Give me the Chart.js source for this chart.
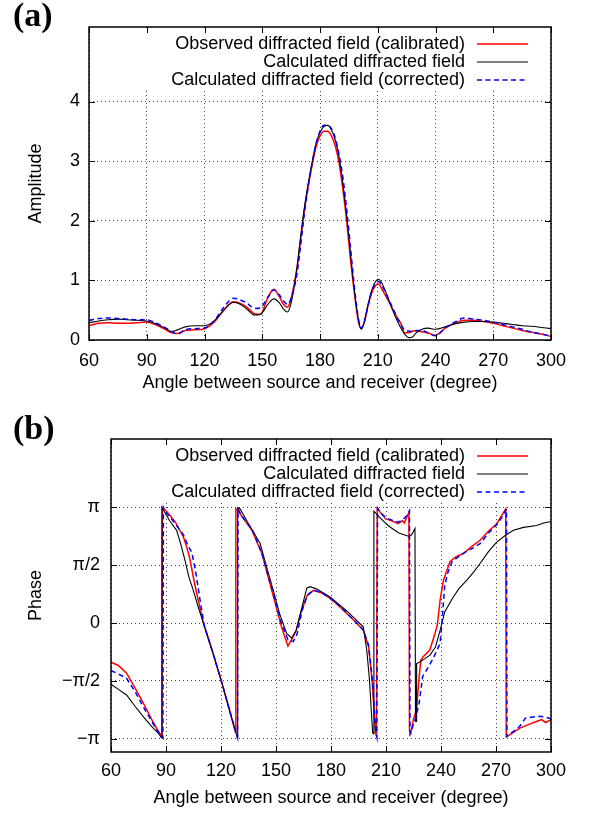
<!DOCTYPE html>
<html>
<head>
<meta charset="utf-8">
<script src="https://cdn.jsdelivr.net/npm/chart.js@4"></script>
<style>
    html, body { margin: 0; padding: 0; background: #fff; }
    #wrap { position: relative; width: 590px; height: 814px; }
    canvas { position: absolute; left: 0; }
</style>
</head>
<body>
<div id="wrap">
    <canvas id="ampChart" width="590" height="405" style="top:0px"></canvas>
    <canvas id="phaseChart" width="590" height="409" style="top:405px"></canvas>
</div>
<script>
/* ===============================
   DATA
=============================== */
const seriesLabels = [
    "Observed diffracted field (calibrated)",
    "Calculated diffracted field",
    "Calculated diffracted field (corrected)"
];

// (a) amplitude, shared angle grid
const ampDeg = [60,65,70,75,80,85,90,95,100,103,106,110,115,120,125,130,135,138,142,146,149,153,156,159,161,163,165,168,170,172,174,176,178,180,182,184,186,188,190,192,194,196,198,200,201.5,203,205,207,209,210.5,212,214,216,218,220,222,224,226,228,230,233,236,240,245,250,255,260,265,270,275,280,285,290,295,300];
const ampObs = [0.24,0.28,0.29,0.28,0.28,0.29,0.30,0.25,0.17,0.12,0.11,0.16,0.17,0.19,0.3,0.5,0.64,0.62,0.55,0.44,0.43,0.72,0.85,0.72,0.6,0.55,0.7,1.2,1.7,2.2,2.6,2.95,3.25,3.42,3.5,3.5,3.42,3.25,2.95,2.5,1.95,1.3,0.75,0.3,0.19,0.3,0.58,0.8,0.92,0.94,0.86,0.75,0.63,0.5,0.38,0.28,0.12,0.12,0.15,0.15,0.14,0.12,0.08,0.2,0.28,0.33,0.33,0.31,0.28,0.24,0.2,0.16,0.13,0.1,0.06];
const ampCalc = [0.29,0.32,0.34,0.35,0.34,0.33,0.32,0.27,0.19,0.14,0.17,0.22,0.24,0.24,0.32,0.5,0.63,0.61,0.52,0.42,0.43,0.6,0.69,0.62,0.52,0.47,0.62,1.2,1.75,2.25,2.65,3.0,3.3,3.48,3.58,3.6,3.52,3.35,3.05,2.6,2.05,1.4,0.8,0.33,0.18,0.3,0.6,0.85,0.99,1.02,0.96,0.82,0.65,0.48,0.33,0.2,0.1,0.04,0.05,0.12,0.18,0.2,0.18,0.22,0.27,0.3,0.31,0.31,0.3,0.28,0.26,0.24,0.23,0.21,0.19];
const ampCorr = [0.33,0.36,0.37,0.36,0.35,0.34,0.34,0.28,0.2,0.14,0.1,0.17,0.19,0.2,0.32,0.55,0.7,0.68,0.62,0.53,0.54,0.72,0.84,0.75,0.66,0.6,0.7,1.1,1.6,2.15,2.6,2.98,3.3,3.5,3.6,3.6,3.54,3.38,3.1,2.7,2.15,1.5,0.85,0.35,0.2,0.3,0.58,0.83,0.96,0.98,0.92,0.8,0.66,0.52,0.38,0.26,0.17,0.15,0.14,0.16,0.16,0.12,0.07,0.2,0.3,0.37,0.35,0.33,0.3,0.26,0.22,0.18,0.13,0.1,0.06];
const ampTicks = [0, 1, 2, 3, 4];

// (b) phase, each series has its own angles (wraps at +-pi)
const obsPhaseDeg = [60,64,68.5,73,77.6,82,86,87.8,88.0,90,92.2,95,99.5,101.3,103,104.9,107,110.4,115,120,124,127.8,128.1,129.5,131.4,136.9,142.3,146,149.6,153,156.5,158.5,161,164,167,170.4,175,179.5,184,188.6,193,197.6,200.5,202.5,204.3,204.8,205.2,207,210,213,216.6,219,220,221.5,222.5,222.8,223.5,225,226.6,228,229,230.3,233.9,236.7,238,239.5,241.3,244.9,248,252.2,256,261.3,266,270.4,275.3,275.6,277,283,288,292,295,297,299.5,300];
const obsPhase = [-1.06,-1.15,-1.36,-1.75,-2.17,-2.6,-2.95,-3.08,3.14,3.05,2.92,2.75,2.34,2.07,1.75,1.25,0.75,0,-0.7,-1.54,-2.25,-2.95,3.1,3.05,2.9,2.52,1.89,1.2,0.54,-0.1,-0.62,-0.45,-0.2,0.35,0.75,0.89,0.82,0.67,0.48,0.26,0.05,-0.19,-0.64,-1.6,-3.0,-3.05,3.12,3.0,2.83,2.78,2.7,2.78,2.72,2.9,3.0,-2.9,-3.0,-2.6,-2.36,-1.5,-1.0,-0.91,-0.73,-0.28,-0.05,0.62,1.16,1.67,1.8,1.89,2.05,2.25,2.5,2.7,3.1,-3.08,-3.05,-2.85,-2.75,-2.67,-2.62,-2.7,-2.64,-2.65];

const calcPhaseDeg = [60,64,68.5,73,77.6,82,86,87.6,87.8,90,92,95.8,98,100.4,102.5,104.9,107.5,110.4,115,120,124,128.8,129.1,130.4,135,141.3,145,148.5,152,155.8,158.5,161,163.5,166.8,168.6,172,179.5,184,188.6,193,197.6,199.5,201,202.7,203.1,203.4,206,209,212.2,217,222.2,224,225.8,226.1,226.4,226.7,228.6,231,234,237,239.5,242,246.7,250,254,258,261.3,266,270.4,275,279.5,285,292.2,296,300];
const calcPhase = [-1.66,-1.8,-1.95,-2.25,-2.54,-2.8,-3.0,-3.12,3.14,2.95,2.78,2.52,2.15,1.7,1.25,0.89,0.45,0,-0.72,-1.54,-2.25,-3.1,3.14,3.1,2.7,2.17,1.5,0.89,0.25,-0.28,-0.41,-0.2,0.3,0.95,0.99,0.93,0.71,0.52,0.33,0.12,-0.1,-0.73,-1.55,-2.98,-3.0,3.04,2.9,2.75,2.61,2.45,2.36,2.4,2.57,-2.67,-2.67,-1.1,-1.05,-0.97,-0.87,-0.65,-0.2,0.3,0.71,0.95,1.16,1.4,1.62,1.95,2.2,2.38,2.52,2.6,2.65,2.72,2.76];

const corrPhaseDeg = [60,64,68.5,73,77.6,82,86,88.3,88.6,90,92.2,95,99.5,102,104,106,108.6,111,115,120,124,129,129.3,131.4,136.9,142.3,146,149.6,153,156.5,159.4,161.5,164,167,170.4,175,179.5,184,188.6,193,197.6,200.5,202.5,204.5,205.0,205.4,207,210,213,216.6,219,221.5,222.8,223.1,224,226,228,230,233,235.7,239.5,240.5,242,243.5,246,250,254,258,261.3,266,270,273,275.7,276.0,278,283,286,290,293.7,297,300];
const corrPhase = [-1.29,-1.38,-1.5,-1.85,-2.27,-2.65,-2.98,-3.12,3.14,3.0,2.88,2.7,2.4,2.1,1.93,1.45,0.62,-0.1,-0.72,-1.54,-2.25,-3.1,3.1,2.9,2.55,1.9,1.25,0.6,0.0,-0.45,-0.5,-0.3,0.3,0.75,0.89,0.83,0.68,0.5,0.27,0.06,-0.18,-0.6,-1.5,-3.0,-3.1,3.12,3.0,2.86,2.8,2.74,2.8,2.92,3.05,-3.0,-2.9,-2.6,-2.2,-1.45,-1.2,-0.96,-0.55,0.0,1.0,1.34,1.67,1.82,1.95,2.05,2.16,2.45,2.65,2.85,3.1,-3.08,-3.0,-2.8,-2.58,-2.55,-2.53,-2.55,-2.6];

const phaseTickValues = [-Math.PI, -Math.PI / 2, 0, Math.PI / 2, Math.PI];
const phaseTickLabels = ["\u2212\u03c0", "\u2212\u03c0/2", "0", "\u03c0/2", "\u03c0"];

/* ===============================
   STYLE
=============================== */
const FAMILY = '"Liberation Sans", Arial, sans-serif';
const lineStyles = [
    { borderColor: "#ff0000", borderWidth: 1.5, borderDash: [], order: 3 },
    { borderColor: "#000000", borderWidth: 1.1, borderDash: [], order: 2 },
    { borderColor: "#0000ff", borderWidth: 1.5, borderDash: [5, 3.5], order: 1 }
];

function toPoints(xs, ys) {
    const n = Math.min(xs.length, ys.length);
    const pts = [];
    for (let i = 0; i < n; i++) pts.push({ x: xs[i], y: ys[i] });
    return pts;
}

/* ===============================
   GNUPLOT-LIKE FRAME PLUGIN
=============================== */
const gnuFrame = {
    id: "gnuFrame",
    beforeDatasetsDraw(chart, args, opts) {
        // opaque key box hides the grid behind the legend
        const a = chart.chartArea;
        const ctx = chart.ctx;
        ctx.save();
        ctx.fillStyle = "#fff";
        ctx.fillRect(a.left + 1, a.top + 1, a.right - a.left - 2, opts.keyHeight);
        ctx.restore();
    },
    afterDraw(chart, args, opts) {
        const a = chart.chartArea;
        const ctx = chart.ctx;
        ctx.save();

        /* key */
        ctx.font = "18px " + FAMILY;
        ctx.fillStyle = "#000";
        ctx.textAlign = "right";
        ctx.textBaseline = "middle";
        chart.data.datasets.forEach((ds, i) => {
            const y = a.top + 17 + i * 18;
            ctx.fillText(ds.label, a.right - 86, y);
            ctx.beginPath();
            ctx.strokeStyle = ds.borderColor;
            ctx.lineWidth = ds.borderWidth;
            ctx.setLineDash(ds.borderDash);
            ctx.moveTo(a.right - 74, y);
            ctx.lineTo(a.right - 23, y);
            ctx.stroke();
        });
        ctx.setLineDash([]);

        /* inward ticks on all four sides */
        ctx.strokeStyle = "#000";
        ctx.lineWidth = 1;
        const xs = chart.scales.x;
        const ys = chart.scales.y;
        ctx.beginPath();
        xs.ticks.forEach(t => {
            const x = Math.round(xs.getPixelForValue(t.value)) + 0.5;
            ctx.moveTo(x, a.bottom);
            ctx.lineTo(x, a.bottom - 6);
            ctx.moveTo(x, a.top);
            ctx.lineTo(x, a.top + 6);
        });
        ys.ticks.forEach(t => {
            const y = Math.round(ys.getPixelForValue(t.value)) + 0.5;
            ctx.moveTo(a.left, y);
            ctx.lineTo(a.left + 6, y);
            ctx.moveTo(a.right, y);
            ctx.lineTo(a.right - 6, y);
        });
        ctx.stroke();

        /* border */
        ctx.lineWidth = 1.5;
        ctx.strokeRect(a.left, a.top, a.right - a.left, a.bottom - a.top);

        /* panel letter */
        ctx.font = 'bold 34px "Liberation Serif", "Times New Roman", serif';
        ctx.textAlign = "left";
        ctx.textBaseline = "middle";
        ctx.fillText(opts.letter, 13, opts.letterY);

        ctx.restore();
    }
};

/* ===============================
   CHART BUILDER
=============================== */
function makeChart(id, cfg) {

    const datasets = cfg.series.map((pts, i) => ({
        label: seriesLabels[i],
        data: pts,
        borderColor: lineStyles[i].borderColor,
        borderWidth: lineStyles[i].borderWidth,
        borderDash: lineStyles[i].borderDash,
        order: lineStyles[i].order,
        pointRadius: 0,
        fill: false,
        tension: 0,
        cubicInterpolationMode: cfg.smooth ? "monotone" : "default"
    }));

    return new Chart(document.getElementById(id), {
        type: "line",
        data: { datasets: datasets },
        options: {
            responsive: false,
            animation: false,
            events: [],
            layout: { padding: { left: 0, right: 39, top: cfg.padTop, bottom: 0 } },
            plugins: {
                legend: { display: false },
                tooltip: { enabled: false },
                gnuFrame: { keyHeight: 61, letter: cfg.letter, letterY: cfg.letterY }
            },
            scales: {
                x: {
                    type: "linear",
                    min: 60,
                    max: 300,
                    afterFit: s => { s.height = cfg.xHeight; },
                    ticks: {
                        stepSize: 30,
                        autoSkip: false,
                        maxRotation: 0,
                        padding: cfg.xTickPad,
                        color: "#000",
                        font: { family: FAMILY, size: 18 }
                    },
                    grid: { color: "#444", lineWidth: 1, drawTicks: false },
                    border: { display: false, dash: [1, 3] },
                    title: {
                        display: true,
                        text: "Angle between source and receiver (degree)",
                        color: "#000",
                        font: { family: FAMILY, size: 18 },
                        padding: { top: 0, bottom: cfg.xTitlePad }
                    }
                },
                y: {
                    type: "linear",
                    min: cfg.yMin,
                    max: cfg.yMax,
                    afterFit: s => { s.width = cfg.yWidth; },
                    afterBuildTicks: s => {
                        s.ticks = cfg.yTicks.map(v => ({ value: v }));
                    },
                    ticks: {
                        autoSkip: false,
                        padding: cfg.yTickPad,
                        color: "#000",
                        font: { family: FAMILY, size: 18 },
                        callback: (v, i) => cfg.yLabels ? cfg.yLabels[i] : v
                    },
                    grid: { color: "#444", lineWidth: 1, drawTicks: false },
                    border: { display: false, dash: [1, 3] },
                    title: {
                        display: true,
                        text: cfg.yTitle,
                        color: "#000",
                        font: { family: FAMILY, size: 18 },
                        padding: { top: 25, bottom: 0 }
                    }
                }
            }
        },
        plugins: [gnuFrame]
    });
}

/* ===============================
   PANELS
=============================== */
makeChart("ampChart", {
    series: [toPoints(ampDeg, ampObs), toPoints(ampDeg, ampCalc), toPoints(ampDeg, ampCorr)],
    smooth: true,
    padTop: 27,
    xHeight: 65,
    xTickPad: 10,
    xTitlePad: 11,
    yWidth: 89,
    yTickPad: 9,
    yMin: 0,
    yMax: 5.25,
    yTicks: ampTicks,
    yLabels: null,
    yTitle: "Amplitude",
    letter: "(a)",
    letterY: 17
});

makeChart("phaseChart", {
    series: [
        toPoints(obsPhaseDeg, obsPhase),
        toPoints(calcPhaseDeg, calcPhase),
        toPoints(corrPhaseDeg, corrPhase)
    ],
    smooth: false,
    padTop: 34,
    xHeight: 62,
    xTickPad: 8,
    xTitlePad: 5,
    yWidth: 111,
    yTickPad: 11,
    yMin: -3.5,
    yMax: 5,
    yTicks: phaseTickValues,
    yLabels: phaseTickLabels,
    yTitle: "Phase",
    letter: "(b)",
    letterY: 25
});
</script>
</body>
</html>
